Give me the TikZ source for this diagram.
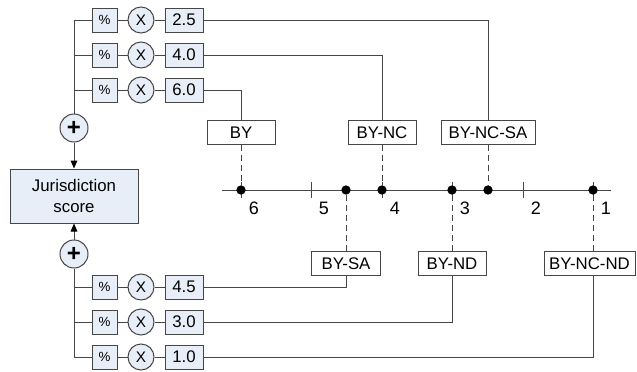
\documentclass[tikz,border=0pt]{standalone}
\usepackage{fontspec}
\setmainfont{Liberation Sans}
\usetikzlibrary{arrows.meta}
\definecolor{lc}{RGB}{70,70,70}
\definecolor{bf}{RGB}{232,238,248}
\begin{document}
\begin{tikzpicture}[x=0.75pt,y=-0.75pt,line width=0.75pt,
  ln/.style={draw=lc},
  dsh/.style={draw=lc,dash pattern=on 4.5pt off 3pt},
  pbox/.style={draw=lc,fill=bf,minimum width=18.75pt,minimum height=18pt,inner sep=0pt,font=\fontsize{10}{12}\selectfont},
  xcirc/.style={draw=lc,fill=bf,circle,minimum size=19.5pt,inner sep=0pt,font=\fontsize{11.5}{13}\selectfont},
  vbox/.style={draw=lc,fill=bf,minimum width=28.5pt,minimum height=18pt,inner sep=0pt,font=\fontsize{12.6}{15}\selectfont},
  lbox/.style={draw=lc,fill=white,minimum height=17.5pt,inner sep=0pt,font=\fontsize{12.6}{15}\selectfont},
  pcirc/.style={draw=lc,fill=bf,circle,minimum size=21pt,inner sep=0pt,font=\fontsize{18}{18}\selectfont\bfseries},
  jbox/.style={draw=lc,fill=bf,minimum width=96pt,minimum height=40.5pt,inner sep=0pt,align=center,font=\fontsize{12.6}{16}\selectfont},
  dot/.style={circle,fill=black,minimum size=7pt,inner sep=0pt},
  num/.style={font=\fontsize{13.5}{15}\selectfont,inner sep=0pt},
  arr/.style={ln,-{Triangle[length=6pt,width=5pt,color=black]}}]
\useasboundingbox (0,0) rectangle (637,372);

% upper rows
\foreach \i/\y/\v in {1/20/2.5,2/55/4.0,3/90/6.0}{
  \node[pbox] (p\i) at (104.5,\y) {\%};
  \node[xcirc] (x\i) at (141,\y) {X};
  \node[vbox] (v\i) at (184,\y) {\v};
  \draw[ln] (p\i) -- (x\i) -- (v\i);
}
% lower rows
\foreach \i/\y/\v in {4/287/4.5,5/322/3.0,6/357/1.0}{
  \node[pbox] (p\i) at (104.5,\y) {\%};
  \node[xcirc] (x\i) at (141,\y) {X};
  \node[vbox] (v\i) at (184,\y) {\v};
  \draw[ln] (p\i) -- (x\i) -- (v\i);
}

\node[pcirc] (plusT) at (74,128) {+};
\node[pcirc] (plusB) at (74,254) {+};
\node[jbox] (jur) at (74,196) {Jurisdiction\\score};

\coordinate (busT) at (74,20);
\coordinate (busB) at (74,357);
\draw[ln] (p1.west) -- (busT) -- (plusT.north);
\draw[ln] (p2.west) -- (p2.west -| busT);
\draw[ln] (p3.west) -- (p3.west -| busT);
\draw[ln] (p6.west) -- (busB) -- (plusB.south);
\draw[ln] (p4.west) -- (p4.west -| busB);
\draw[ln] (p5.west) -- (p5.west -| busB);
\draw[arr] (plusT.south) -- (jur.north);
\draw[arr] (plusB.north) -- (jur.south);

% axis
\coordinate (axL) at (222,190);
\coordinate (axR) at (611,190);
\draw[ln] (axL) -- (axR);
\foreach \n/\x in {6/241,5/311,4/382,3/452,2/523,1/593}{
  \coordinate (t\n) at (\x,190);
  \draw[ln] (\x,182) -- (\x,198);
  \node[num] (n\n) at (\x+13,208) {\n};
}
\node[dot] (d6) at (t6) {};
\node[dot] (d4) at (t4) {};
\node[dot] (d3) at (t3) {};
\node[dot] (d1) at (t1) {};
\node[dot] (dsa) at (346,190) {};
\node[dot] (dncsa) at (488,190) {};

% label boxes
\node[lbox,minimum width=51pt] (by) at (241,132.5) {BY};
\node[lbox,minimum width=51pt] (bync) at (382,132.5) {BY-NC};
\node[lbox,minimum width=70.5pt] (byncsa) at (488,132.5) {BY-NC-SA};
\node[lbox,minimum width=51.75pt] (bysa) at (346,263.5) {BY-SA};
\node[lbox,minimum width=51pt] (bynd) at (452,263.5) {BY-ND};
\node[lbox,minimum width=68.25pt] (byncnd) at (589.5,263.5) {BY-NC-ND};

% solid connectors
\draw[ln] (v1.east) -| (byncsa.north);
\draw[ln] (v2.east) -| (bync.north);
\draw[ln] (v3.east) -| (by.north);
\draw[ln] (v4.east) -| (bysa.south);
\draw[ln] (v5.east) -| (bynd.south);
\draw[ln] (v6.east) -| (d1 |- byncnd.south);

% dashed connectors
\draw[dsh] (by.south) -- (d6);
\draw[dsh] (bync.south) -- (d4);
\draw[dsh] (byncsa.south) -- (dncsa);
\draw[dsh] (dsa) -- (dsa |- bysa.north);
\draw[dsh] (d3) -- (bynd.north);
\draw[dsh] (d1) -- (d1 |- byncnd.north);
\end{tikzpicture}
\end{document}
